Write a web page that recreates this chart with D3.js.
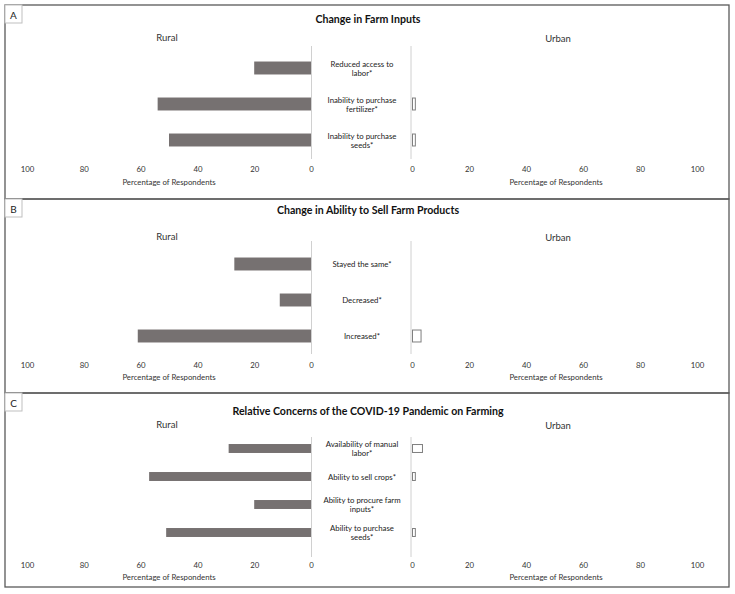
<!DOCTYPE html>
<html>
<head>
<meta charset="utf-8">
<script src="https://cdn.jsdelivr.net/npm/d3@7"></script>
<style>
  body { margin: 0; background: #fff; }
  text { font-family: Lato, "Open Sans", sans-serif; }
</style>
</head>
<body>
<div id="app"></div>
<script>
// data (percent of respondents)
const inputCats = ["Reduced access to|labor*", "Inability to purchase|fertilizer*", "Inability to purchase|seeds*"]
const inputRural = [20, 54, 50]
const inputUrban = [0, 1, 1]

const sellCats = ["Stayed the same*", "Decreased*", "Increased*"]
const sellRural = [27, 11, 61]
const sellUrban = [0, 0, 3]

const concernCats = ["Availability of manual|labor*", "Ability to sell crops*", "Ability to procure farm|inputs*", "Ability to purchase|seeds*"]
const concernRural = [29, 57, 20, 51]
const concernUrban = [3.5, 1, 0, 1]

const tickVals = [0, 20, 40, 60, 80, 100]
const panelLetters = ["A", "B", "C"]
const panelTitles = ["Change in Farm Inputs", "Change in Ability to Sell Farm Products", "Relative Concerns of the COVID-19 Pandemic on Farming"]

const panels = [
  {top: 5, cats: inputCats, rural: inputRural, urban: inputUrban, titleY: 14, subY: 32, line: [41, 154], band: [45, 153], pad: 0.64, tickY: 164, axisY: 177},
  {top: 199, cats: sellCats, rural: sellRural, urban: sellUrban, titleY: 11, subY: 37, line: [42, 155], band: [47, 155], pad: 0.64, tickY: 166, axisY: 178},
  {top: 393, cats: concernCats, rural: concernRural, urban: concernUrban, titleY: 18, subY: 31, line: [44, 164], band: [41.5, 153.5], pad: 0.68, tickY: 172, axisY: 184}
]

const W = 735, H = 594
const svg = d3.select("#app").append("svg").attr("width", W).attr("height", H)

const xRural = d3.scaleLinear().domain([0, 100]).range([311, 27])
const xUrban = d3.scaleLinear().domain([0, 100]).range([412, 697])
const labelX = 362

panels.forEach((p, i) => {
  const g = svg.append("g").attr("transform", `translate(0,${p.top})`)

  g.append("rect").attr("x", 5).attr("y", 0).attr("width", 724).attr("height", 194)
    .attr("fill", "none").attr("stroke", "#595959").attr("stroke-width", 1.3)

  g.append("rect").attr("x", 5).attr("y", 0).attr("width", 17).attr("height", 18)
    .attr("fill", "#fff").attr("stroke", "#bfbfbf").attr("stroke-width", 1)
  g.append("text").attr("x", 13.5).attr("y", 9.5).attr("text-anchor", "middle")
    .attr("dominant-baseline", "central").attr("font-size", 10).attr("fill", "#222").text(panelLetters[i])

  g.append("text").attr("x", 368).attr("y", p.titleY).attr("text-anchor", "middle")
    .attr("dominant-baseline", "central").attr("font-size", 10.6).attr("font-weight", "bold")
    .attr("fill", "#111").text(panelTitles[i])

  g.append("text").attr("x", 167).attr("y", p.subY).attr("text-anchor", "middle")
    .attr("dominant-baseline", "central").attr("font-size", 9.5).attr("fill", "#333").text("Rural")
  g.append("text").attr("x", 558).attr("y", p.subY + 1).attr("text-anchor", "middle")
    .attr("dominant-baseline", "central").attr("font-size", 9.5).attr("fill", "#333").text("Urban")

  const y = d3.scaleBand().domain(p.cats).range(p.band).paddingInner(p.pad).paddingOuter(p.pad / 2)

  // vertical zero lines
  ;[xRural(0) + 0.5, xUrban(0) - 1].forEach(x => {
    g.append("line").attr("x1", x).attr("x2", x).attr("y1", p.line[0]).attr("y2", p.line[1])
      .attr("stroke", "#d0d0d0").attr("stroke-width", 1)
  })

  // rural bars
  g.selectAll(".rbar").data(p.cats).join("rect").attr("class", "rbar")
    .attr("x", (d, j) => xRural(p.rural[j]))
    .attr("y", d => y(d))
    .attr("width", (d, j) => xRural(0) - xRural(p.rural[j]))
    .attr("height", y.bandwidth())
    .attr("fill", "#767171")

  // urban bars (outlined)
  g.selectAll(".ubar").data(p.cats.filter((d, j) => p.urban[j] > 0)).join("rect").attr("class", "ubar")
    .attr("x", xUrban(0) + 0.5)
    .attr("y", d => y(d) + 0.5)
    .attr("width", d => xUrban(p.urban[p.cats.indexOf(d)]) - xUrban(0))
    .attr("height", y.bandwidth() - 1)
    .attr("fill", "#fff").attr("stroke", "#7f7f7f").attr("stroke-width", 1)

  // category labels
  p.cats.forEach(c => {
    const lines = c.split("|")
    const cy = y(c) + y.bandwidth() / 2
    lines.forEach((ln, k) => {
      g.append("text").attr("x", labelX).attr("text-anchor", "middle")
        .attr("y", Math.round(cy + (k - (lines.length - 1) / 2) * 9))
        .attr("dominant-baseline", "central")
        .attr("font-size", 7.8).attr("fill", "#222").text(ln)
    })
  })

  // axes
  const axR = g.append("g").attr("transform", `translate(0,${p.tickY})`)
    .call(d3.axisBottom(xRural).tickValues(tickVals).tickSize(0).tickPadding(0))
  const axU = g.append("g").attr("transform", `translate(0,${p.tickY})`)
    .call(d3.axisBottom(xUrban).tickValues(tickVals).tickSize(0).tickPadding(0))
  ;[axR, axU].forEach(ax => {
    ax.select(".domain").remove()
    ax.selectAll("text").attr("dy", null).attr("dominant-baseline", "central")
      .attr("font-family", "Lato, 'Open Sans', sans-serif").attr("font-size", 7.8).attr("fill", "#333")
  })

  g.append("text").attr("x", 169).attr("y", p.axisY).attr("text-anchor", "middle")
    .attr("dominant-baseline", "central").attr("font-size", 7.8).attr("fill", "#333").text("Percentage of Respondents")
  g.append("text").attr("x", 556).attr("y", p.axisY).attr("text-anchor", "middle")
    .attr("dominant-baseline", "central").attr("font-size", 7.8).attr("fill", "#333").text("Percentage of Respondents")
})
</script>
</body>
</html>
